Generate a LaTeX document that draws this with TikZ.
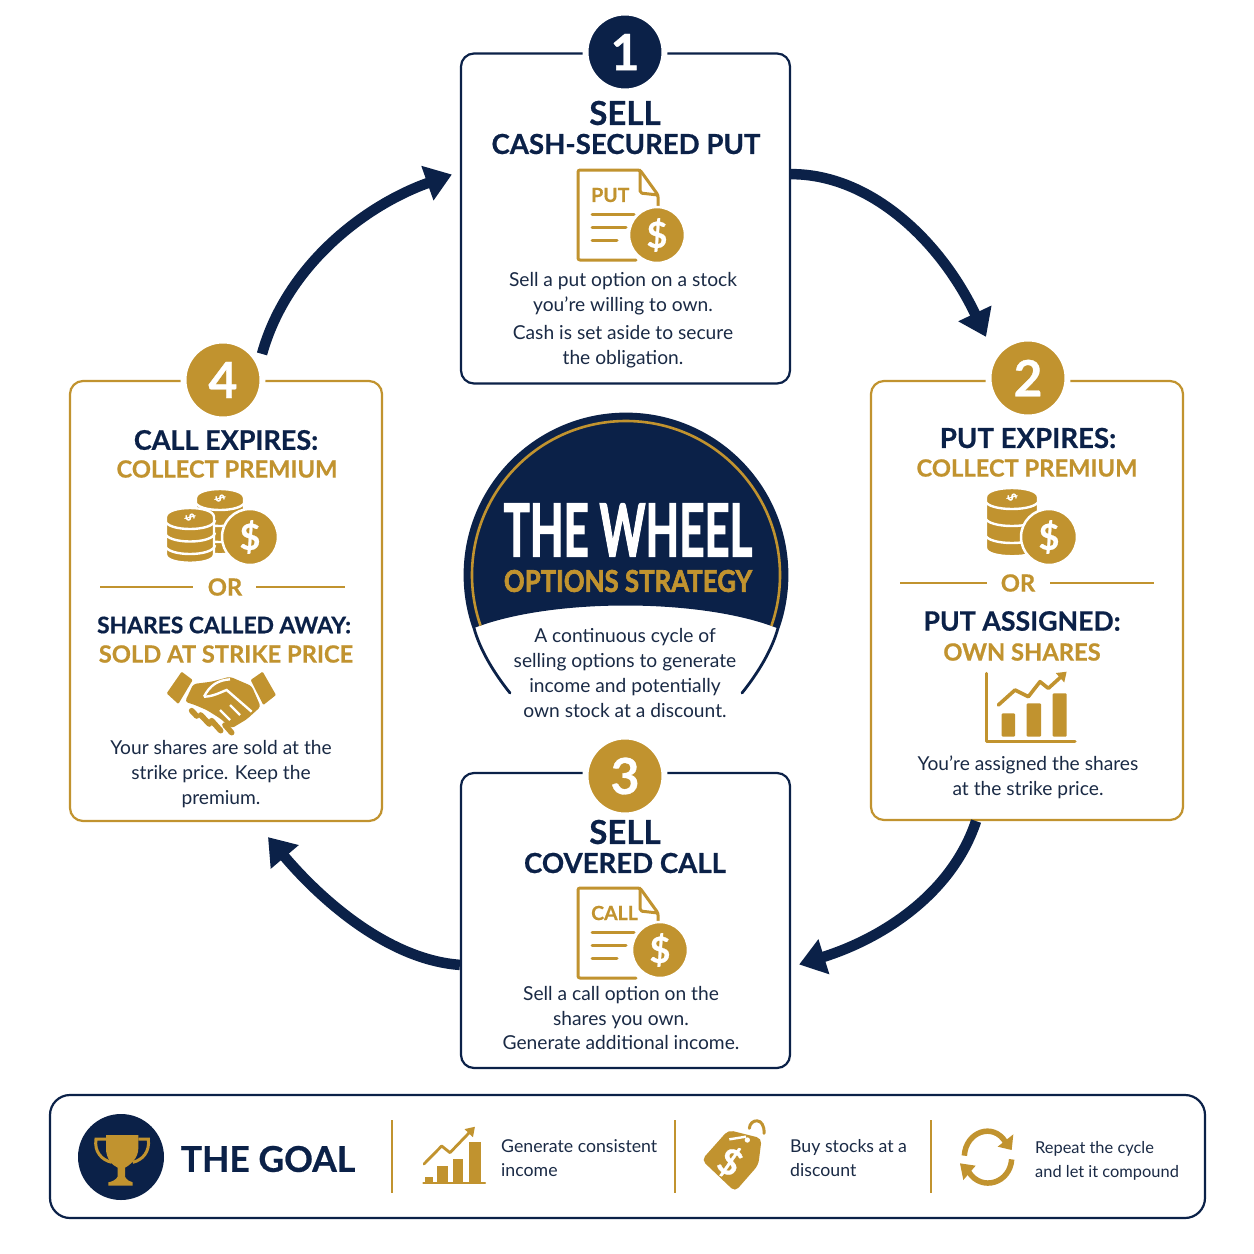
\documentclass[tikz,border=0pt]{standalone}
\usepackage{fontspec}
\setmainfont{Lato}[BoldFeatures={FakeBold=0.6}]
\newfontfamily\wheelfont{Lato}[BoldFeatures={FakeBold=2.2}]
\usepackage{xcolor}
\usetikzlibrary{arrows.meta,calc}

\definecolor{navy}{HTML}{0B2148}
\definecolor{gold}{HTML}{C1932F}
\definecolor{bodyink}{HTML}{1A2A45}

\tikzset{
  stepbox/.style={draw=#1, line width=2.2pt, rounded corners=13pt, fill=white, inner sep=0pt},
  badge/.style={circle, fill=#1, draw=white, line width=6pt, minimum size=79pt, inner sep=0pt,
    text=white, font=\fontsize{50}{50}\selectfont\bfseries},
  headnavy/.style={text=navy, font=\fontsize{#1}{#1}\selectfont\bfseries, inner sep=0pt},
  headnavy/.default=27.6,
  headgold/.style={text=gold, font=\fontsize{#1}{#1}\selectfont\bfseries, inner sep=0pt},
  headgold/.default=23.7,
  bodytext/.style={text=bodyink, align=center, inner sep=0pt, font=\fontsize{19.2}{24.7}\selectfont},
  goaltext/.style={text=bodyink, align=left, anchor=west, inner sep=0pt, font=\fontsize{#1}{23.5}\selectfont},
  goaltext/.default=17.7,
  cyclearrow/.style={draw=navy, line width=10.5pt, -{Triangle[length=26pt,width=35pt]}},
  orline/.style={draw=gold, line width=2.2pt},
  dollarcoin/.style={circle, fill=gold, draw=white, line width=2.5pt, minimum size=#1, inner sep=0pt,
    text=white, font=\fontsize{36}{36}\selectfont\bfseries},
  dollarcoin/.default=56pt,
  goldline/.style={draw=gold, line width=3pt, line cap=round, line join=round},
  whiteline/.style={draw=white, line width=2.4pt},
  fingerbar/.style={draw=gold, line width=5.6pt, line cap=round},
  divider/.style={draw=gold, line width=1.6pt},
}

% paper with folded corner, text and lines
\newcommand{\paperlines}[5]{
  \begin{scope}[shift={(#1,#2)}]
    \draw[goldline, rounded corners=2pt] (82,50) -- (82,27) -- (64,2) -- (2,2) -- (2,92) -- (60,92);
    \draw[goldline, rounded corners=2pt] (64,2) -- (64,25) -- (82,27);
    \draw[goldline] (16,46) -- (58,46);
    \draw[goldline] (16,59) -- (50,59);
    \draw[goldline] (16,72) -- (41,72);
    \node[text=gold, font=\fontsize{#5}{#5}\selectfont\bfseries, inner sep=0pt, anchor=west] (#3) at (15,27) {#4};
  \end{scope}
}

% stack of coins, x, y of the top face, half width, layers, layer height
\newcommand{\coinstack}[6]{
  \filldraw[fill=gold, draw=white, line width=2.4pt] (#1-#3,#2) .. controls (#1-#3,#2-12) and (#1+#3,#2-12) .. (#1+#3,#2)
    -- (#1+#3,#2+#4*#5) .. controls (#1+#3,#2+#4*#5+11) and (#1-#3,#2+#4*#5+11) .. (#1-#3,#2+#4*#5) -- cycle;
  \foreach \lev in {1,...,#4} {
    \draw[whiteline] (#1-#3-1,#2+3+\lev*#5-#5) .. controls (#1-#3,#2+\lev*#5-#5+15) and (#1+#3,#2+\lev*#5-#5+15) .. (#1+#3+1,#2+3+\lev*#5-#5);
  }
  \node[text=white, font=\fontsize{12}{12}\selectfont\bfseries, inner sep=0pt, rotate=-70] (#6) at (#1,#2) {\$};
}

\begin{document}
\begin{tikzpicture}[x=1pt,y=-1pt]
  \useasboundingbox[fill=white] (0,0) rectangle (1254,1254);

  % step boxes
  \node[stepbox=navy, minimum width=329pt, minimum height=330pt] (step1) at (625.5,218.5) {};
  \node[stepbox=gold, minimum width=312pt, minimum height=439pt] (step2) at (1027,600.5) {};
  \node[stepbox=navy, minimum width=329pt, minimum height=295pt] (step3) at (625.5,920.5) {};
  \node[stepbox=gold, minimum width=312pt, minimum height=440pt] (step4) at (226,601) {};

  \node[badge=navy] (badge1) at (625,52) {1};
  \node[badge=gold] (badge2) at (1028,378) {2};
  \node[badge=gold] (badge3) at (625,776) {3};
  \node[badge=gold] (badge4) at (223,380) {4};

  % arrows round the wheel
  \coordinate (tip12) at ($(step2.north)+(-41,-43)$);
  \coordinate (tip23) at ($(step3.east)+(8,44)$);
  \coordinate (tip34) at ($(step4.south)+(42,15)$);
  \coordinate (tail41) at ($(step4.north)+(36,-26)$);
  \coordinate (tip41) at ($(step1.west)+(-8,-44)$);
  \draw[cyclearrow] (step1.15) .. controls +(80,0) and +(-45,-95) .. (tip12);
  \draw[cyclearrow] (step2.257) .. controls +(-25,75) and +(80,-25) .. (tip23);
  \draw[cyclearrow] (step3.195.7) .. controls +(-70,-5) and +(55,65) .. (tip34);
  \draw[cyclearrow] (tail41) .. controls +(25,-90) and +(-85,30) .. (tip41);

  % step 1
  \node[headnavy=33] (sell1) at (625,113) {SELL};
  \node[headnavy] (cashput) at (626,144) {CASH-SECURED PUT};
  \paperlines{576}{168}{putword}{PUT}{19.5}
  \node[dollarcoin] (coinput) at (657,235) {\$};
  \node[bodytext] (put1) at (623,294) {Sell a put option on a stock\\you're willing to own.};
  \node[bodytext] (put2) at (623,347) {Cash is set aside to secure\\the obligation.};

  % step 2
  \node[headnavy] (putexp) at (1028,438) {PUT EXPIRES:};
  \node[headgold] (collect2) at (1027,468) {COLLECT PREMIUM};
  \coinstack{1012}{497}{26}{3}{17}{stackdollar2}
  \node[dollarcoin] (coin2) at (1049,537) {\$};
  \node[headgold] (or2) at (1018,583) {OR};
  \draw[orline] (900,583) -- (or2.west -| 987,583);
  \draw[orline] (or2.east -| 1050,583) -- (1154,583);
  \node[headnavy=26.7] (putass) at (1022,621) {PUT ASSIGNED:};
  \node[headgold] (own2) at (1022,652) {OWN SHARES};
  \begin{scope}[shift={(960,480)},scale=1/3]
    \draw[goldline] (78,580) -- (78,785) -- (345,785);
    \fill[gold, rounded corners=1pt] (125,700) rectangle (165,770);
    \fill[gold, rounded corners=1pt] (200,670) rectangle (243,770);
    \fill[gold, rounded corners=1pt] (278,640) rectangle (320,770);
    \draw[goldline, line width=3.6pt, -{Triangle[length=9pt,width=12pt]}] (115,675) -- (165,630) -- (205,650) -- (240,605) -- (265,625) -- (320,575);
  \end{scope}
  \node[bodytext] (assigned) at (1028,777.5) {You're assigned the shares\\at the strike price.};

  % step 3
  \node[headnavy=33] (sell3) at (625,832) {SELL};
  \node[headnavy] (covcall) at (625,863) {COVERED CALL};
  \paperlines{576}{886}{callword}{CALL}{19.5}
  \node[dollarcoin] (coincall) at (660,950) {\$};
  \node[bodytext] (call1) at (621,1018) {Sell a call option on the\\shares you own.\\Generate additional income.};

  % step 4
  \node[headnavy=27] (callexp) at (226,440) {CALL EXPIRES:};
  \node[headgold] (collect4) at (227,469) {COLLECT PREMIUM};
  \coinstack{220}{498}{24}{3}{16}{stackdollar4b}
  \coinstack{190}{517}{24}{3}{12.5}{stackdollar4a}
  \node[dollarcoin] (coin4) at (250,537) {\$};
  \node[headgold] (or4) at (225,587) {OR};
  \draw[orline] (100,587) -- (193,587);
  \draw[orline] (256,587) -- (345,587);
  \node[headnavy=22.8] (called) at (224,625) {SHARES CALLED AWAY:};
  \node[headgold] (sold) at (226,654) {SOLD AT STRIKE PRICE};
  \begin{scope}[shift={(130,480)},scale=1/3]
    % cuffs
    \fill[gold,rounded corners=1pt] (155,575) -- (188,600) -- (145,672) -- (110,640) -- cycle;
    \fill[gold,rounded corners=1pt] (362,600) -- (398,575) -- (438,645) -- (400,675) -- cycle;
    % hands
    \fill[gold,rounded corners=3pt] (190,612) -- (245,605) -- (300,590) -- (365,618) -- (392,680) -- (350,718) -- (305,745) -- (270,715) -- (230,690) -- (195,675) -- (165,665) -- cycle;
    \draw[fingerbar] (185,692) -- (200,708);
    \draw[fingerbar] (212,705) -- (238,732);
    \draw[fingerbar] (245,722) -- (272,752);
    \draw[fingerbar] (285,735) -- (305,758);
    \draw[whiteline] (222,650) .. controls (240,615) and (265,600) .. (300,598);
    \draw[whiteline] (222,650) .. controls (250,650) and (275,635) .. (290,630) -- (365,695);
    \draw[whiteline] (270,690) -- (300,720);
    \draw[whiteline] (300,675) -- (330,705);
  \end{scope}
  \node[bodytext] (sold1) at (221,774) {Your shares are sold at the\\strike price. Keep the\\premium.};

  % centre of the wheel
  \begin{scope}
    \clip (440,400) -- (810,400) -- (810,628) -- (777,628) .. controls (700,598) and (551,598) .. (474,628) -- (440,628) -- cycle;
    \fill[navy] (626,575) circle (161);
    \draw[navy, line width=2.8pt] (626,575) circle (161);
    \draw[gold, line width=2.6pt] (626,575) circle (154);
  \end{scope}
  \draw[navy, line width=2.8pt, line cap=round] (474,628) .. controls (480,650) and (494,673) .. (510,693);
  \draw[navy, line width=2.8pt, line cap=round] (778,628) .. controls (772,650) and (758,673) .. (742,693);
  \node[text=white, inner sep=0pt, font=\wheelfont\fontsize{73}{73}\selectfont\bfseries] (wheel) at (628,530) {\scalebox{0.6}[1]{THE WHEEL}};
  \node[text=gold, inner sep=0pt, font=\wheelfont\fontsize{30}{30}\selectfont\bfseries] (strategy) at (628,581) {\scalebox{0.86}[1]{OPTIONS STRATEGY}};
  \node[bodytext] (wheeltext) at (625,673) {A continuous cycle of\\selling options to generate\\income and potentially\\own stock at a discount.};

  % goal panel
  \node[stepbox=navy, rounded corners=20pt, minimum width=1155pt, minimum height=123pt] (goalpanel) at (627.5,1156.5) {};
  \node[circle, fill=navy, minimum size=86pt, inner sep=0pt] (cupdisc) at (121,1157) {};
  \begin{scope}[shift={(70,1105)},scale=1/3]
    \draw[gold, line width=3pt] (108,102) -- (78,102) .. controls (72,140) and (95,165) .. (125,172);
    \draw[gold, line width=3pt] (205,102) -- (235,102) .. controls (240,140) and (218,165) .. (188,172);
    \fill[gold] (108,90) -- (205,90) -- (205,130) .. controls (205,160) and (180,180) .. (165,188) -- (165,215) .. controls (170,225) and (180,230) .. (188,232) -- (188,242) -- (115,242) -- (115,232) .. controls (125,230) and (138,225) .. (143,215) -- (143,188) .. controls (125,180) and (108,160) .. (108,130) -- cycle;
  \end{scope}
  \node[text=navy, inner sep=0pt, font=\fontsize{35.5}{36}\selectfont\bfseries] (goal) at (268,1159) {THE GOAL};
  \draw[divider] (392,1120) -- (392,1193);
  \draw[divider] (675,1120) -- (675,1193);
  \draw[divider] (931,1120) -- (931,1193);

  \begin{scope}[shift={(410,1110)},scale=1/3]
    \draw[goldline, line width=2.2pt] (40,218) -- (225,218);
    \fill[gold] (45,200) rectangle (70,218);
    \fill[gold] (82,168) rectangle (113,218);
    \fill[gold] (130,146) rectangle (160,218);
    \fill[gold] (178,97) rectangle (213,218);
    \draw[goldline, line width=2.8pt, -{Triangle[length=9pt,width=11pt]}] (42,162) -- (95,108) -- (120,128) -- (195,50);
  \end{scope}
  \node[goaltext] (goal1) at (501,1158) {Generate consistent\\income};

  \begin{scope}[shift={(690,1110)},scale=1/3]
    \draw[gold, line width=3pt, line cap=round] (178,55) .. controls (180,25) and (225,20) .. (222,70);
    \fill[gold, rounded corners=5pt] (115,60) -- (215,85) -- (205,165) -- (135,245) -- (35,150) -- cycle;
    \fill[white] (172,90) circle (8);
    \draw[whiteline] (118,88) -- (168,80);
  \end{scope}
  \node[text=white, inner sep=0pt, rotate=-30, font=\fontsize{36}{36}\selectfont\bfseries] (tagdollar) at (730,1162) {\$};
  \node[goaltext] (goal2) at (790,1158) {Buy stocks at a\\discount};

  \begin{scope}[shift={(945,1115)},scale=1/3]
    \draw[gold, line width=5.5pt] (58,122) .. controls (62,50) and (145,20) .. (182,82);
    \fill[gold] (205,58) -- (200,105) -- (158,95) -- cycle;
    \draw[gold, line width=5.5pt] (200,133) .. controls (195,205) and (110,230) .. (72,172);
    \fill[gold] (45,145) -- (92,152) -- (55,195) -- cycle;
  \end{scope}
  \node[goaltext=16.4] (goal3) at (1035,1161) {Repeat the cycle\\and let it compound};
\end{tikzpicture}
\end{document}
